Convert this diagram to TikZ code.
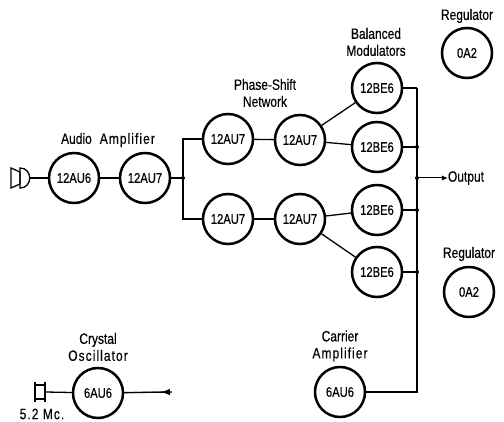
\documentclass[tikz,border=0pt]{standalone}
\usepackage{fontspec}
\setmainfont[FakeStretch=0.8,FakeBold=0.4]{Liberation Sans}
\newcommand{\spaced}[1]{{\addfontfeature{LetterSpace=7}#1}}
\usetikzlibrary{arrows.meta}
\begin{document}
\begin{tikzpicture}[
        x=1pt, y=-1pt,
        tube/.style={draw, circle, line width=2.5pt, minimum size=50pt, inner sep=0pt, font=\fontsize{14}{14}\selectfont},
        caption/.style={align=center, inner sep=0pt, font=\fontsize{15}{17}\selectfont},
        wire/.style={draw, line width=1.3pt},
        bus/.style={draw, line width=1.5pt},
        dot/.style={circle, fill, inner sep=0pt, minimum size=4pt},
        feed/.style={draw, line width=1pt, -{Latex[length=6pt,width=5.5pt]}},
    ]
    \useasboundingbox (0,0) rectangle (504,422);
    \node[tube](audio1) at (74,178){12AU6};
    \node[tube](audio2) at (145,178){12AU7};
    \node[tube](phasea1) at (228,139){12AU7};
    \node[tube](phaseb1) at (228,219){12AU7};
    \node[tube](phasea2) at (300,140){12AU7};
    \node[tube](phaseb2) at (300,219){12AU7};
    \node[tube](mod1) at (377,88){12BE6};
    \node[tube](mod2) at (377,147){12BE6};
    \node[tube](mod3) at (377,210){12BE6};
    \node[tube](mod4) at (377,272){12BE6};
    \node[tube](reg1) at (467,53){0A2};
    \node[tube](reg2) at (469,292){0A2};
    \node[tube](carrier) at (340,392){6AU6};
    \node[tube](crystal) at (98,393){6AU6};

    \node[caption](audiolabel) at (108,140){Audio\hspace{8pt}\spaced{Amplifier}};
    \node[caption](phaselabel) at (265,93){Phase-Shift\\Network};
    \node[caption](modlabel) at (376,42){Balanced\\Modulators};
    \node[caption](reg1label) at (467,16){Regulator};
    \node[caption](reg2label) at (469,254){Regulator};
    \node[caption](carrierlabel) at (340,346){Carrier\\\spaced{Amplifier}};
    \node[caption](crystallabel) at (98,347){Crystal\\\spaced{Oscillator}};
    \node[caption](outlabel) at (466,178){Output};
    \node[caption](mclabel) at (42,414){\spaced{5.2 Mc.}};

    \coordinate (spk) at (30,178);
    \coordinate (xtal) at (45,392);
    \coordinate (oschead) at (170,392);
    \coordinate (oscout) at (172,392);
    \coordinate (fork) at (183,178);
    \coordinate (forka) at (183,139);
    \coordinate (forkb) at (183,219);
    \coordinate (bus1) at (417,88);
    \coordinate (bus2) at (417,147);
    \coordinate (busout) at (417,178);
    \coordinate (bus3) at (417,210);
    \coordinate (bus4) at (417,272);
    \coordinate (bus5) at (417,392);

    % speaker and crystal
    \draw[line width=1.3pt] (11,168) -- (20,172) -- (20,184) -- (11,188) -- cycle;
    \draw[line width=1.3pt] (20,168) .. controls (33,168) and (33,188) .. (20,188) -- cycle;
    \draw[line width=1.3pt] (35,382) -- (35,402) (45,382) -- (45,402) (35,385) -- (45,385) (35,399) -- (45,399);

    \draw[wire] (spk) -- (audio1);
    \draw[wire] (audio1) -- (audio2);
    \draw[wire] (audio2) -- (fork);
    \draw[wire] (phasea1) -- (forka) -- (forkb) -- (phaseb1);
    \draw[wire] (phasea1) -- (phasea2);
    \draw[wire] (phaseb1) -- (phaseb2);
    \draw[wire] (phasea2) -- (mod1);
    \draw[wire] (phasea2) -- (mod2);
    \draw[wire] (phaseb2) -- (mod3);
    \draw[wire] (phaseb2) -- (mod4);
    \draw[wire] (xtal) -- (crystal);
    \draw[wire] (mod1) -- (bus1);
    \draw[wire] (mod2) -- (bus2);
    \draw[wire] (mod3) -- (bus3);
    \draw[wire] (mod4) -- (bus4);
    \draw[bus] (bus1) -- (bus5) -- (carrier);
    \draw[wire] (crystal) -- (oscout);
    \draw[line width=1pt, -{Latex[length=9pt,width=6.5pt,reversed]}] (crystal) -- (oschead);
    \draw[feed] (busout) -- (outlabel);
    \node[dot](forkdot) at (fork){};
    \node[dot](busdot1) at (bus2){};
    \node[dot](busdot2) at (busout){};
    \node[dot](busdot3) at (bus3){};
    \node[dot](busdot4) at (bus4){};
\end{tikzpicture}
\end{document}
